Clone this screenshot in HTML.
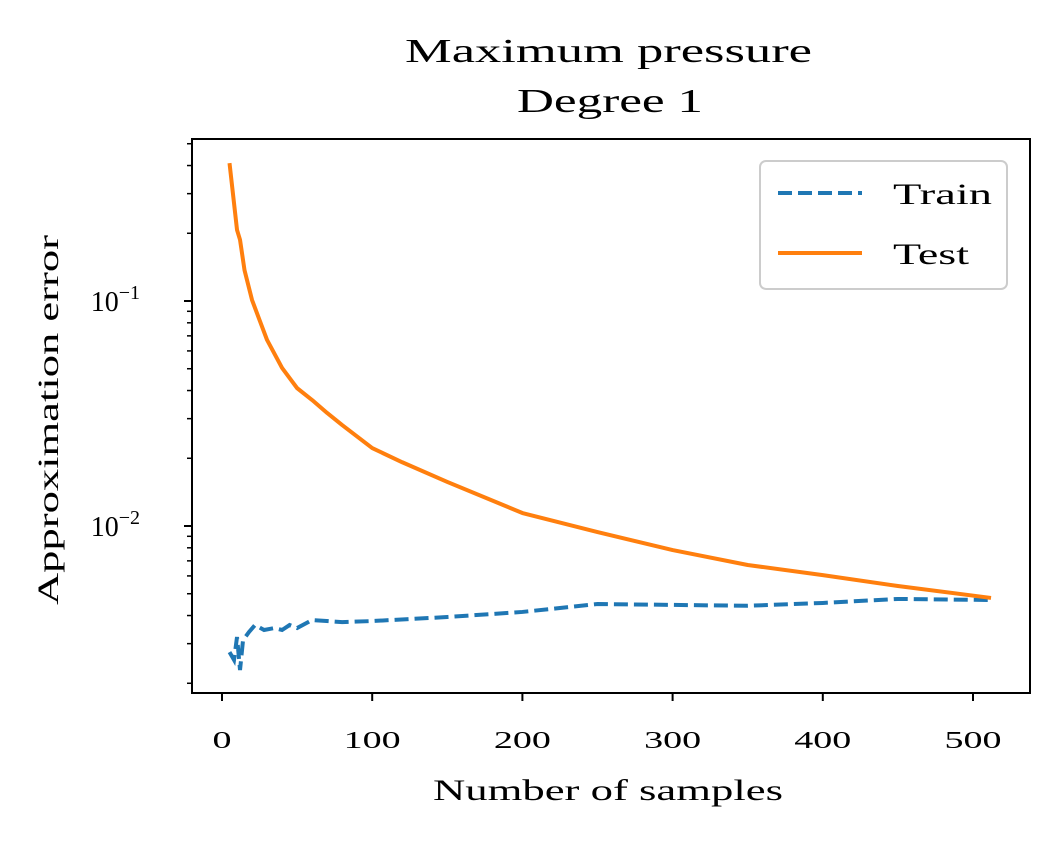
<!DOCTYPE html>
<html><head><meta charset="utf-8"><style>
body{margin:0;background:#fff}
text{font-family:"Liberation Serif","DejaVu Serif",serif;fill:#000}
</style></head><body>
<svg id="chart" width="1059" height="838" xmlns="http://www.w3.org/2000/svg">
<text x="405" y="62" font-size="34" textLength="407" lengthAdjust="spacingAndGlyphs">Maximum pressure</text>
<text x="517" y="112" font-size="34" textLength="186" lengthAdjust="spacingAndGlyphs">Degree 1</text>
<text x="433" y="800" font-size="30" textLength="350" lengthAdjust="spacingAndGlyphs">Number of samples</text>
<text transform="translate(58,605) rotate(-90)" font-size="30" textLength="370" lengthAdjust="spacingAndGlyphs">Approximation error</text>
<g id="ticks"></g>
<g id="series"></g>
<rect x="192" y="139" width="838" height="554" fill="none" stroke="#000" stroke-width="2"/>
<g>
<rect x="760" y="161" width="247" height="128" rx="6" fill="#fff" fill-opacity="0.8" stroke="#ccc" stroke-width="2"/>
<line x1="778" y1="193" x2="862" y2="193" stroke="#1f77b4" stroke-width="4" stroke-dasharray="14,6"/>
<text x="893" y="204" font-size="30" textLength="99" lengthAdjust="spacingAndGlyphs">Train</text>
<line x1="778" y1="253" x2="862" y2="253" stroke="#ff7f0e" stroke-width="4"/>
<text x="893" y="264" font-size="30" textLength="76" lengthAdjust="spacingAndGlyphs">Test</text>
</g>
</svg>
<script>
const xTicks=[0,100,200,300,400,500];
const yMajor=[0.01,0.1];
const yMajorLabels=["10","10"];
const yMajorExp=["−2","−1"];
const testX=[5,10,12,15,20,25,30,40,50,60,70,80,100,120,150,200,250,300,350,400,450,512];
const testY=[0.41,0.207,0.187,0.137,0.101,0.0823,0.0671,0.0504,0.041,0.0363,0.0318,0.0281,0.0222,0.0192,0.0157,0.01142,0.0094,0.00782,0.00671,0.00605,0.00541,0.00479];
const trainX=[5,8,10,12,14,18,22,28,35,40,45,50,60,80,100,150,200,250,300,350,400,450,512];
const trainY=[0.00275,0.00254,0.00321,0.00229,0.00311,0.00338,0.00363,0.00345,0.00352,0.00345,0.00363,0.00352,0.00382,0.00374,0.00378,0.00394,0.00415,0.0045,0.00446,0.00442,0.00455,0.00474,0.00469];
const NS="http://www.w3.org/2000/svg";
const sx=v=>222+v*1.502;
const sy=v=>526-225*Math.log10(v/0.01);
const tk=document.getElementById('ticks'), se=document.getElementById('series');
function mk(tag,attrs,parent){const e=document.createElementNS(NS,tag);for(const k in attrs)e.setAttribute(k,attrs[k]);parent.appendChild(e);return e;}
xTicks.forEach(t=>{
  const l=mk('line',{x1:sx(t),x2:sx(t),y1:693,y2:701,stroke:'#000','stroke-width':2},tk);
  
  
  const s=String(t);
  const tx=mk('text',{x:sx(t),y:748,'font-size':24,'text-anchor':'middle',textLength:s.length*19,lengthAdjust:'spacingAndGlyphs'},tk);
  tx.textContent=s;
  
  
});
yMajor.forEach((v,i)=>{
  const l=mk('line',{x1:184,x2:192,y1:sy(v),y2:sy(v),stroke:'#000','stroke-width':2},tk);
  
  
  const tx=mk('text',{x:140,y:sy(v)+10,'font-size':28,'text-anchor':'end'},tk);
  
  
  tx.innerHTML=yMajorLabels[i]+'<tspan dy="-12" font-size="20">'+yMajorExp[i]+'</tspan>';
});
[0.001,0.01,0.1].forEach(d=>{for(let m=2;m<=9;m++){const v=d*m,y=sy(v);if(y<139||y>693)continue;
  const l=mk('line',{x1:187,x2:192,y1:y,y2:y,stroke:'#000','stroke-width':1.5},tk);
  
  }});
const tr=mk('polyline',{points:trainX.map((x,i)=>sx(x)+','+sy(trainY[i])).join(' '),fill:'none',stroke:'#1f77b4','stroke-width':4,'stroke-dasharray':'14,6'},se);


const te=mk('polyline',{points:testX.map((x,i)=>sx(x)+','+sy(testY[i])).join(' '),fill:'none',stroke:'#ff7f0e','stroke-width':4,'stroke-linejoin':'round'},se);


</script>
</body></html>
